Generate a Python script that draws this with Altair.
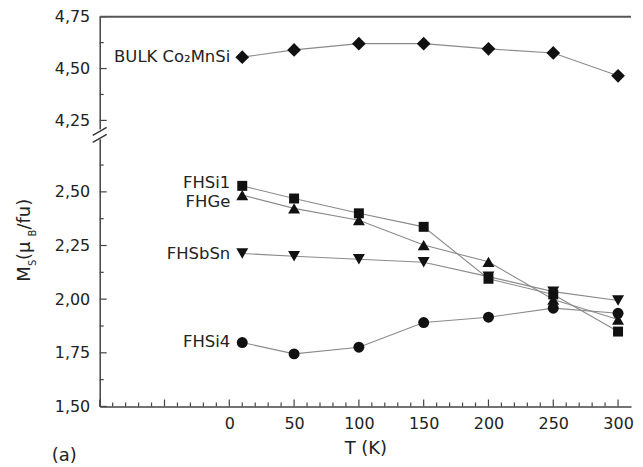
import altair as alt
import pandas as pd

# ---- data ----
T = [10, 50, 100, 150, 200, 250, 300]
bulk = [4.555, 4.590, 4.620, 4.620, 4.595, 4.575, 4.465]
fhsi1 = [2.528, 2.469, 2.400, 2.337, 2.095, 2.022, 1.849]
fhge = [2.485, 2.423, 2.368, 2.252, 2.174, 1.998, 1.905]
fhsbsn = [2.213, 2.200, 2.186, 2.172, 2.105, 2.035, 1.994]
fhsi4 = [1.798, 1.745, 1.776, 1.891, 1.916, 1.958, 1.934]

series_names = ["BULK Co₂MnSi", "FHSi1", "FHGe", "FHSbSn", "FHSi4"]
series_values = [bulk, fhsi1, fhge, fhsbsn, fhsi4]

x_labels = [0, 50, 100, 150, 200, 250, 300]
x_major = [-100, -50, 0, 50, 100, 150, 200, 250, 300]
x_minor = [v for v in range(-90, 310, 10) if v % 50 != 0]
y_labels = [1.5, 1.75, 2.0, 2.25, 2.5, 4.25, 4.5, 4.75]
y_minor = [1.625, 1.875, 2.125, 2.375, 2.625, 4.375, 4.625]

# ---- styles ----
FONT = "DejaVu Sans"
W, H = 533, 391
shapes = ["diamond", "square", "triangle-up", "triangle-down", "circle"]
sizes = [190, 100, 144, 144, 121]
label_dy = [0, -3, 7, 1, 0]

rows = []
for name, vals in zip(series_names, series_values):
    for t, v in zip(T, vals):
        rows.append({"series": name, "T": t, "M": v})
df = pd.DataFrame(rows)

xscale = alt.Scale(domain=[-100, 310], nice=False, zero=False)
yscale = alt.Scale(domain=[1.5, 2.75, 4.19, 4.75], range=[H, 121.9, 116.5, 0],
                   nice=False, zero=False)
xaxis = alt.Axis(values=x_labels, ticks=False, tickSize=0, grid=False, labelPadding=9,
                 labelFlush=False, labelOverlap=False, title="T (K)",
                 titleFontSize=18, titleFont=FONT, titleFontWeight="normal",
                 titlePadding=8, titleColor="#222")
yaxis = alt.Axis(values=y_labels, ticks=False, tickSize=0, grid=False, labelPadding=10,
                 labelFlush=False, labelOverlap=False, title=None,
                 labelExpr="replace(format(datum.value, '.2f'), '.', ',')")


def X(f):
    return alt.X(f"{f}:Q", scale=xscale, axis=xaxis)


def Y(f):
    return alt.Y(f"{f}:Q", scale=yscale, axis=yaxis)


layers = []
layers.append(alt.Chart(df).mark_line(color="#8a8a8a", strokeWidth=1.1).encode(
    x=X("T"), y=Y("M"), detail="series:N"))

for name, shp, sz, dy in zip(series_names, shapes, sizes, label_dy):
    sub = df[df.series == name]
    layers.append(alt.Chart(sub).mark_point(shape=shp, size=sz, filled=True, opacity=1,
                                             color="#111", strokeWidth=0).encode(
        x=X("T"), y=Y("M")))
    first = sub[sub["T"] == T[0]]
    layers.append(alt.Chart(first).mark_text(align="right", baseline="middle", dx=-12, dy=dy,
                                              font=FONT, fontSize=16.5, color="#222").encode(
        x=X("T"), y=Y("M"), text="series:N"))

# inward ticks
ymaj = pd.DataFrame({"v": y_labels})
ymin = pd.DataFrame({"v": y_minor})
xmaj = pd.DataFrame({"v": x_major})
xmin = pd.DataFrame({"v": x_minor})
tick_col = "#444"
layers.append(alt.Chart(ymaj).mark_rule(color=tick_col, strokeWidth=1.2).encode(
    y=Y("v"), x=alt.value(0), x2=alt.value(7)))
layers.append(alt.Chart(ymin).mark_rule(color=tick_col, strokeWidth=1.2).encode(
    y=Y("v"), x=alt.value(0), x2=alt.value(4)))
layers.append(alt.Chart(xmaj).mark_rule(color=tick_col, strokeWidth=1.2).encode(
    x=X("v"), y=alt.value(H), y2=alt.value(H - 7)))
layers.append(alt.Chart(xmin).mark_rule(color=tick_col, strokeWidth=1.2).encode(
    x=X("v"), y=alt.value(H), y2=alt.value(H - 4)))

dummy = pd.DataFrame({"a": [0]})
# top frame line
layers.append(alt.Chart(dummy).mark_rule(color="#555", strokeWidth=2).encode(
    x=alt.value(0), x2=alt.value(W), y=alt.value(0)))
# axis break
layers.append(alt.Chart(dummy).mark_rule(color="white", strokeWidth=4).encode(
    x=alt.value(0), y=alt.value(113), y2=alt.value(123)))
layers.append(alt.Chart(dummy).mark_rule(color="#333", strokeWidth=1.4).encode(
    x=alt.value(-7), x2=alt.value(7), y=alt.value(119), y2=alt.value(111)))
layers.append(alt.Chart(dummy).mark_rule(color="#333", strokeWidth=1.4).encode(
    x=alt.value(-7), x2=alt.value(7), y=alt.value(126), y2=alt.value(118)))

# y title pieces (rotated)
title_parts = [("M", 18, 0, 0), ("S", 10, 16, 6), (" (μ", 18, 22, 0),
               ("B", 10, 45.5, 6), ("/fu)", 18, 52.5, 0)]
for txt, fs, dx, dy in title_parts:
    layers.append(alt.Chart(dummy).mark_text(text=txt, angle=270, align="left",
                                              baseline="alphabetic", font=FONT,
                                              fontSize=fs, dx=dx, dy=dy, color="#222").encode(
        x=alt.value(-70), y=alt.value(266)))

# panel tag
layers.append(alt.Chart(dummy).mark_text(text="(a)", align="left", baseline="middle",
                                          font=FONT, fontSize=18, color="#222").encode(
    x=alt.value(-48), y=alt.value(441)))

chart = alt.layer(*layers).properties(
    width=W, height=H,
    autosize=alt.AutoSizeParams(type="none"),
    padding={"left": 92, "top": 8, "right": 4, "bottom": 59},
).configure_view(stroke=None).configure_axis(
    domainColor="#444", domainWidth=1.5, labelFont=FONT, labelFontSize=16,
    labelColor="#222")

chart.save("out.html", embed_options={"renderer": "svg", "actions": False})
